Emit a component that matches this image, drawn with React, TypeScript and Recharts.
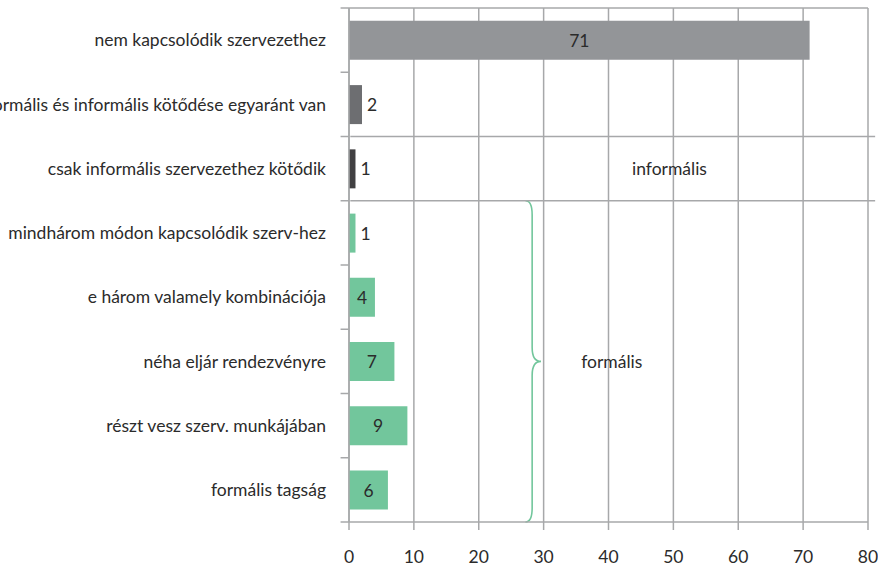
import React from 'react';
import { BarChart, Bar, XAxis, YAxis, CartesianGrid, Cell, LabelList, ReferenceLine, ReferenceArea, ReferenceDot } from 'recharts';

const categories = [
  'nem kapcsolódik szervezethez',
  'formális és informális kötődése egyaránt van',
  'csak informális szervezethez kötődik',
  'mindhárom módon kapcsolódik szerv-hez',
  'e három valamely kombinációja',
  'néha eljár rendezvényre',
  'részt vesz szerv. munkájában',
  'formális tagság',
];
const values = [71, 2, 1, 1, 4, 7, 9, 6];
const barColors = ['#939598', '#6d6e71', '#414042', '#72c69c', '#72c69c', '#72c69c', '#72c69c', '#72c69c'];
const xTicks = [0, 10, 20, 30, 40, 50, 60, 70, 80];

const data = categories.map((name, i) => ({ name, value: values[i] }));

const FONT = 'Lato, "Open Sans", sans-serif';
const FS = 17.5;
const GRID = '#a7a8aa';
const TEXT = '#2b2b2b';
const GREEN = '#72c69c';

const BarLabel = (props: any) => {
  const { x, y, width, height, value } = props;
  const inside = value >= 4;
  return (
    <text
      x={inside ? x + width / 2 : x + width + 5}
      y={y + height / 2}
      textAnchor={inside ? 'middle' : 'start'}
      dominantBaseline="central"
      fill={TEXT}
      fontSize={FS}
      fontFamily={FONT}
    >
      {value}
    </text>
  );
};

// curly brace drawn inside the reference area's box
const Brace = (props: any) => {
  const { x, y, width, height } = props;
  const xm = x + width * 0.43;
  const xt = x + width;
  const ym = y + height / 2;
  const r = 14;
  const d = `M ${x} ${y} Q ${xm} ${y} ${xm} ${y + r} L ${xm} ${ym - r} Q ${xm} ${ym} ${xt} ${ym} Q ${xm} ${ym} ${xm} ${ym + r} L ${xm} ${y + height - r} Q ${xm} ${y + height} ${x} ${y + height}`;
  return <path d={d} fill="none" stroke={GREEN} strokeWidth={1.6} />;
};

const last = categories[categories.length - 1];

export default function App() {
  return (
    <div style={{ position: 'absolute', left: 0, top: 0, width: 878, height: 566, background: '#fff' }}>
      <BarChart
        width={878}
        height={566}
        data={data}
        layout="vertical"
        margin={{ top: 8, right: 10, bottom: 0, left: 0 }}
        barCategoryGap="20%"
      >
        <CartesianGrid horizontal={false} stroke={GRID} strokeWidth={1.5} />
        <XAxis
          type="number"
          domain={[0, 80]}
          ticks={xTicks}
          height={44}
          tickSize={8}
          tickMargin={21}
          stroke={GRID}
          strokeWidth={1.5}
          tick={{ fill: TEXT, fontSize: FS, fontFamily: FONT }}
        />
        <YAxis
          type="category"
          dataKey="name"
          width={349}
          tickLine={false}
          tickSize={0}
          tickMargin={23}
          stroke={GRID}
          strokeWidth={1.5}
          tick={{ fill: TEXT, fontSize: FS, fontFamily: FONT }}
        />
        {/* tick marks on the category boundaries */}
        {categories.map((c) => (
          <ReferenceLine
            key={c}
            position="start"
            ifOverflow="visible"
            segment={[{ x: -1.3, y: c }, { x: 0, y: c }]}
            stroke={GRID}
            strokeWidth={1.5}
          />
        ))}
        <ReferenceLine position="end" ifOverflow="visible" segment={[{ x: -1.3, y: last }, { x: 0, y: last }]} stroke={GRID} strokeWidth={1.5} />
        <ReferenceLine position="start" ifOverflow="visible" segment={[{ x: 0, y: categories[0] }, { x: 80, y: categories[0] }]} stroke={GRID} strokeWidth={1.5} />
        <ReferenceLine position="start" ifOverflow="visible" segment={[{ x: 0.2, y: categories[2] }, { x: 81.1, y: categories[2] }]} stroke={GRID} strokeWidth={1.5} />
        <ReferenceLine position="start" ifOverflow="visible" segment={[{ x: 0.2, y: categories[3] }, { x: 81.1, y: categories[3] }]} stroke={GRID} strokeWidth={1.5} />
        <Bar dataKey="value" isAnimationActive={false}>
          {data.map((d, i) => (
            <Cell key={d.name} fill={barColors[i]} />
          ))}
          <LabelList dataKey="value" content={BarLabel} />
        </Bar>
        <ReferenceArea
          x1={27.2}
          x2={29.6}
          y1={categories[3]}
          y2={last}
          ifOverflow="visible"
          shape={Brace}
        />
        <ReferenceDot
          x={49.4}
          y={categories[2]}
          r={1}
          fill="none"
          stroke="none"
          label={{ value: 'informális', position: 'center', fill: TEXT, fontSize: FS, fontFamily: FONT }}
        />
        <ReferenceDot
          x={40.5}
          y={categories[5]}
          r={1}
          fill="none"
          stroke="none"
          label={{ value: 'formális', position: 'center', fill: TEXT, fontSize: FS, fontFamily: FONT }}
        />
      </BarChart>
    </div>
  );
}
